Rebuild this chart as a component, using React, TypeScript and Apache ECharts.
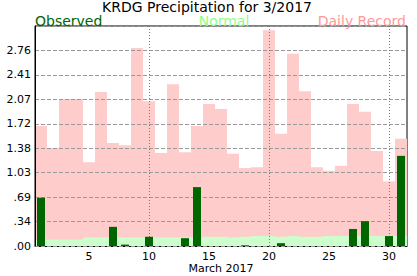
import React, { useEffect, useRef } from "react";
import * as echarts from "echarts";

const days = [
  "1", "2", "3", "4", "5", "6", "7", "8", "9", "10",
  "11", "12", "13", "14", "15", "16", "17", "18", "19", "20",
  "21", "22", "23", "24", "25", "26", "27", "28", "29", "30", "31",
];

const recordValues = [
  1.69, 1.38, 2.07, 2.07, 1.18, 2.17, 1.45, 1.42, 2.79, 2.04,
  1.31, 2.28, 1.32, 1.69, 2.0, 1.93, 1.3, 1.1, 1.11, 3.04,
  1.58, 2.71, 2.18, 1.11, 1.06, 1.13, 2.0, 1.89, 1.34, 0.91, 1.51,
];

const normalValues = [
  0.09, 0.09, 0.09, 0.09, 0.12, 0.12, 0.12, 0.12, 0.12, 0.12,
  0.12, 0.12, 0.12, 0.12, 0.13, 0.13, 0.12, 0.13, 0.14, 0.14,
  0.13, 0.14, 0.13, 0.13, 0.14, 0.14, 0.14, 0.14, 0.14, 0.14, 0.14,
];

const observedValues = [
  0.68, 0, 0, 0, 0, 0, 0.27, 0.02, 0, 0.13,
  0, 0, 0.11, 0.83, 0, 0, 0, 0.01, 0, 0,
  0.04, 0, 0, 0, 0, 0, 0.24, 0.35, 0, 0.14, 1.27,
];

const markedDays = ["10", "20", "30"];

const titleText = "KRDG Precipitation for 3/2017";
const axisName = "March 2017";
const yMax = 3.1;
const yDivisions = 9;

const FONT = "DejaVu Sans";

export default function App() {
  const ref = useRef<HTMLDivElement>(null);
  useEffect(() => {
    if (!ref.current) return;
    const chart = echarts.init(ref.current, null, { renderer: "svg" });
    chart.setOption({
      animation: false,
      backgroundColor: "#fff",
      grid: {
        left: 35,
        right: 10,
        top: 26,
        bottom: 30,
        show: true,
        borderColor: "#000",
        borderWidth: 1,
        backgroundColor: "transparent",
        containLabel: false,
        outerBoundsMode: "none",
      },
      graphic: [
        {
          type: "text",
          x: 207,
          y: 6.5,
          style: {
            text: titleText,
            fill: "#000",
            font: `14px "${FONT}"`,
            lineHeight: 13,
            textAlign: "center",
            textVerticalAlign: "middle",
          },
        },
        {
          type: "text",
          x: 35,
          y: 21,
          style: {
            text: "Observed",
            fill: "#006600",
            font: `14px "${FONT}"`,
            lineHeight: 12,
            textAlign: "left",
            textVerticalAlign: "middle",
          },
        },
        {
          type: "text",
          x: 224,
          y: 21,
          style: {
            text: "Normal",
            fill: "#88ff88",
            font: `14px "${FONT}"`,
            lineHeight: 12,
            textAlign: "center",
            textVerticalAlign: "middle",
          },
        },
        {
          type: "text",
          x: 406,
          y: 21,
          style: {
            text: "Daily Record",
            fill: "#ff9999",
            font: `14px "${FONT}"`,
            lineHeight: 12,
            textAlign: "right",
            textVerticalAlign: "middle",
          },
        },
      ],
      xAxis: [
        {
          type: "category",
          data: days,
          boundaryGap: true,
          name: axisName,
          nameLocation: "middle",
          nameGap: 17,
          nameMoveOverlap: false,
          nameTextStyle: { color: "#000", fontFamily: FONT, fontSize: 11, lineHeight: 11 },
          axisLine: { lineStyle: { color: "#000", width: 1 } },
          axisTick: {
            alignWithLabel: true,
            interval: 0,
            length: 4,
            lineStyle: { color: "#000" },
          },
          axisLabel: {
            interval: (i: number) => (i + 1) % 5 === 0,
            color: "#000",
            fontFamily: FONT,
            fontSize: 11,
            lineHeight: 11,
            margin: 5,
          },
          splitLine: { show: false },
        },
        {
          type: "category",
          data: days,
          show: false,
        },
      ],
      yAxis: {
        type: "value",
        min: 0,
        max: yMax,
        interval: yMax / yDivisions,
        z: 3,
        axisLine: { show: true, lineStyle: { color: "#000", width: 1 } },
        axisTick: { show: false },
        axisLabel: {
          color: "#000",
          fontFamily: FONT,
          fontSize: 11,
          margin: 4,
          formatter: (v: number) => {
            if (v >= yMax - 0.01) return "";
            const s = v.toFixed(2);
            return v < 1 ? s.replace(/^0/, "") : s;
          },
        },
        splitLine: {
          show: true,
          lineStyle: { color: "#999", type: [4, 2], width: 1 },
        },
      },
      series: [
        {
          name: "Daily Record",
          type: "bar",
          xAxisIndex: 0,
          data: recordValues,
          barWidth: "100%",
          barGap: "-100%",
          itemStyle: { color: "#ffcccc" },
          z: 2,
          markLine: {
            silent: true,
            symbol: "none",
            label: { show: false },
            lineStyle: { color: "#777", type: [1, 2], width: 1 },
            data: markedDays.map((d) => ({ xAxis: d })),
          },
        },
        {
          name: "Normal",
          type: "bar",
          xAxisIndex: 0,
          data: normalValues,
          barWidth: "100%",
          barGap: "-100%",
          itemStyle: { color: "#ccffcc" },
          z: 2,
        },
        {
          name: "Observed",
          type: "bar",
          xAxisIndex: 1,
          data: observedValues,
          barWidth: 8,
          itemStyle: { color: "#006600" },
          z: 6,
        },
      ],
    });
    return () => chart.dispose();
  }, []);
  return <div ref={ref} style={{ width: 417, height: 276, position: "absolute", left: 0, top: 0 }} />;
}
